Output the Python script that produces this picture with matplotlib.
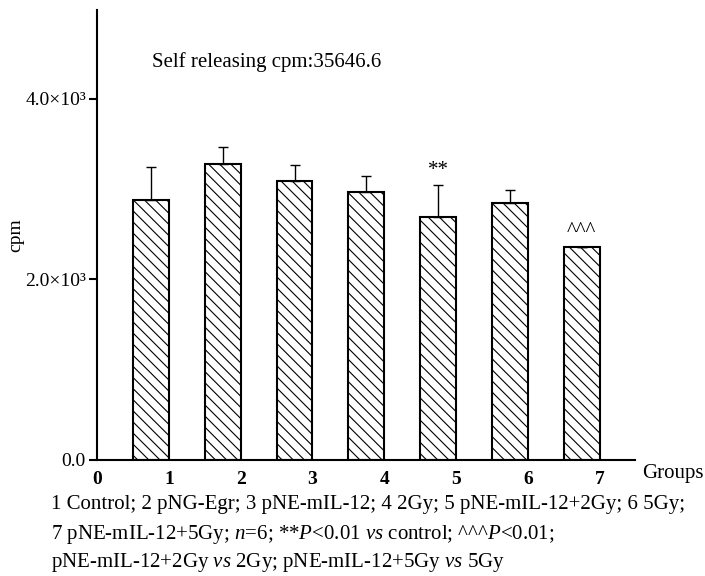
import numpy as np
import matplotlib
matplotlib.use("Agg")
import matplotlib.pyplot as plt

# data
groups = [1, 2, 3, 4, 5, 6, 7]
cpm = [2880, 3280, 3090, 2970, 2690, 2840, 2360]
cpm_sd = [365, 185, 180, 170, 350, 145, 0]
marks = ["", "", "", "", "**", "", "^^^"]
xticks = [0, 1, 2, 3, 4, 5, 6, 7]
yticks = [0, 2000, 4000]
ytick_labels = ["0.0", "2.0×10³", "4.0×10³"]

caption = [
    "1 Control; 2 pNG-Egr; 3 pNE-mIL-12; 4 2Gy; 5 pNE-mIL-12+2Gy; 6 5Gy;",
    r"7 pNE-mIL-12+5Gy; $\mathit{n}$=6; **$\mathit{P}$<0.01 $\mathit{vs}$ control; ^^^$\mathit{P}$<0.01;",
    r"pNE-mIL-12+2Gy $\mathit{vs}$ 2Gy; pNE-mIL-12+5Gy $\mathit{vs}$ 5Gy",
]
caption_y = [505, 535, 562]  # pixel rows from the top

plt.rcParams['font.family'] = ['Liberation Serif', 'DejaVu Serif']
plt.rcParams['mathtext.fontset'] = 'custom'
plt.rcParams['mathtext.rm'] = 'Liberation Serif'
plt.rcParams['mathtext.it'] = 'Liberation Serif:italic'
plt.rcParams['hatch.linewidth'] = 0.8

fig = plt.figure(figsize=(7.05, 5.76), dpi=100)
ax = fig.add_axes([0.1376, 0.2014, 0.763, 0.7812])

ax.bar(groups, cpm, width=-0.5, align='edge', color='white',
       edgecolor='black', linewidth=1.5, hatch='\\\\\\')
centers = np.array(groups) - 0.25
ax.errorbar(centers, cpm, yerr=[np.zeros(len(cpm_sd)), cpm_sd], fmt='none',
            ecolor='black', elinewidth=1.0, capsize=3.5, capthick=1.0)

for xc, v, e, m in zip(centers, cpm, cpm_sd, marks):
    if m:
        ax.text(xc, v + e + 165, m, ha='center', va='center', fontsize=15)

ax.set_xlim(0, 7.49)
ax.set_ylim(0, 4980)
ax.spines['top'].set_visible(False)
ax.spines['right'].set_visible(False)
ax.spines['left'].set_linewidth(1.5)
ax.spines['bottom'].set_linewidth(1.5)

ax.set_yticks(yticks)
ax.set_yticklabels(ytick_labels, fontsize=14)
ax.set_xticks(xticks)
ax.set_xticklabels([str(t) for t in xticks], fontsize=14, fontweight='bold')
ax.tick_params(axis='y', direction='out', length=6, width=1.5, pad=2)
ax.tick_params(axis='x', length=0, pad=8)

ax.set_ylabel("cpm", fontsize=14)
ax.yaxis.set_label_coords(-0.135, 0.5)

fig.text(0.998, 0.178, "Groups", ha='right', va='center', fontsize=15)
ax.text(0.102, 0.885, "Self releasing cpm:35646.6", transform=ax.transAxes,
        ha='left', va='center', fontsize=15)

for line, yp in zip(caption, caption_y):
    fig.text(0.072, 1 - yp / 576, line, ha='left', va='center', fontsize=15)

fig.savefig("out.png", dpi=100)
